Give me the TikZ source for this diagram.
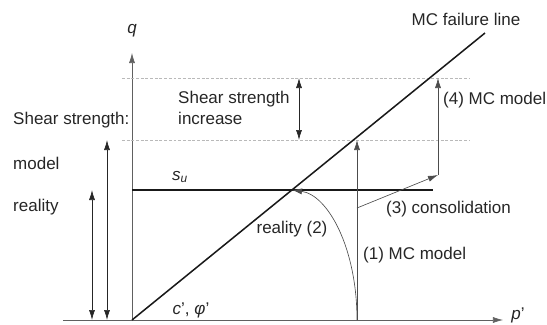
\documentclass[tikz,border=0pt]{standalone}
\usepackage{fontspec}
\setmainfont{Liberation Sans}
\usetikzlibrary{positioning,arrows.meta,calc}

\begin{document}
\begin{tikzpicture}[
    x=0.03cm, y=0.03cm,
    every node/.style={font=\fontsize{14.5}{17.5}\selectfont, text=black!85, inner sep=0pt, align=left},
    axis/.style={-{Latex[length=3mm,width=1.8mm]}, gray!75!black, line width=0.5pt},
    arrow/.style={-{Latex[length=3mm,width=1.8mm]}, gray!60!black, line width=0.55pt},
    dblarrow/.style={{Latex[length=3mm,width=1.8mm]}-{Latex[length=3mm,width=1.8mm]}, black!85, line width=0.6pt},
    failline/.style={black!90, line width=1.3pt},
    guide/.style={gray!55, dash pattern=on 2.5pt off 1.5pt, line width=0.5pt}
]
\useasboundingbox (-132,-4) rectangle (415,320);

% axes
\coordinate (O) at (0,0);
\coordinate (qtop) at (0,267);
\coordinate (pleft) at (-69,0);
\coordinate (pright) at (371,0);
\draw[axis] (O) -- (qtop);
\draw[axis] (pleft) -- (pright);
\node (qlab) at (0,289) {\textit{q}};
\node (plab) at (386,5) {\textit{p}'};

% strength levels
\coordinate (upL) at (-10,242);
\coordinate (upR) at (338,242);
\coordinate (loL) at (-10,180);
\coordinate (loR) at (338,180);
\draw[guide] (upL) -- (upR);
\draw[guide] (loL) -- (loR);

% failure line and undrained strength
\coordinate (mctop) at (353,287);
\coordinate (suL) at (0,130);
\coordinate (suR) at (301,130);
\coordinate (ip) at (160,130);
\draw[failline] (O) -- (mctop);
\draw[failline] (suL) -- (suR);
\node (mclab) at (334,301) {MC failure line};
\node (sulab) at (48,143) {\textit{s}\textsubscript{\textit{u}}};
\node (cphi) at (59,10) {\textit{c}', \textit{φ}'};

% stress paths
\coordinate (p0) at (225,0);
\coordinate (p1) at (225,180);
\coordinate (c0) at (225,112);
\coordinate (c1) at (306,145);
\coordinate (c2) at (306,242);
\draw[arrow] (p0) -- (p1);
\draw[arrow] (p0) .. controls +(0,72) and +(36,-5) .. (ip);
\draw[arrow] (c0) -- (c1);
\draw[arrow] (c1) -- (c2);
\node[anchor=west] (l1) at (231,65) {(1) MC model};
\node (l2) at (160,91) {reality (2)};
\node[anchor=west] (l3) at (254,111) {(3) consolidation};
\node[anchor=west] (l4) at (311,220) {(4) MC model};

% strength increase
\coordinate (incT) at (167,242);
\coordinate (incB) at (167,180);
\draw[dblarrow] (incB) -- (incT);
\node[anchor=west] (inclab) at (46,212) {Shear strength\\increase};

% left: strength model vs reality
\coordinate (mB) at (-25,0);
\coordinate (mT) at (-25,180);
\coordinate (rB) at (-40,0);
\coordinate (rT) at (-40,130);
\draw[dblarrow] (mB) -- (mT);
\draw[dblarrow] (rB) -- (rT);
\node[anchor=west] (sslab) at (-119,200) {Shear strength:};
\node[anchor=west] (mlab) at (-119,157) {model};
\node[anchor=west] (rlab) at (-119,113) {reality};

\end{tikzpicture}
\end{document}
